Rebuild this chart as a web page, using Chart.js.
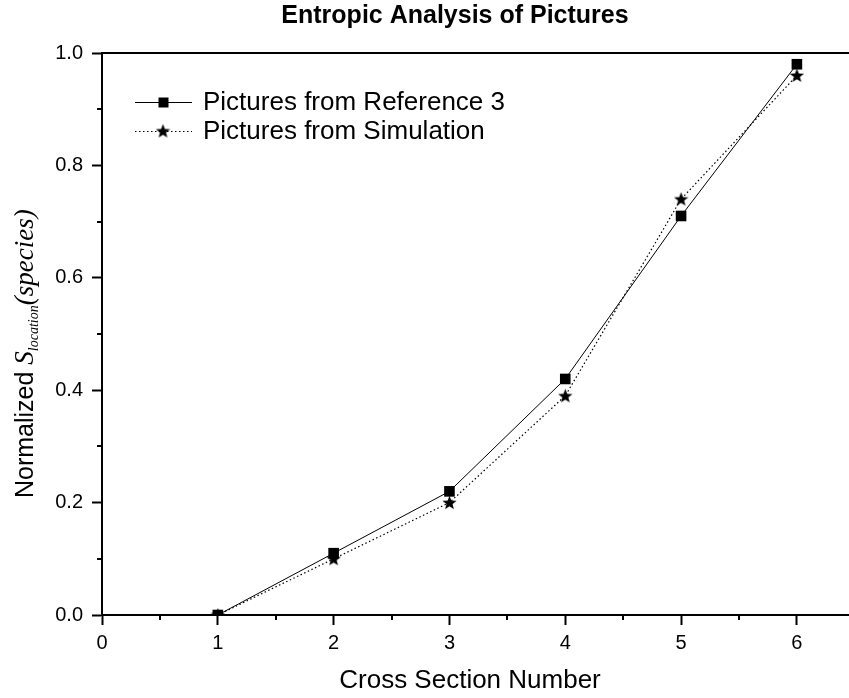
<!DOCTYPE html>
<html>
<head>
<meta charset="utf-8">
<script src="https://cdn.jsdelivr.net/npm/chart.js@4.4.1/dist/chart.umd.min.js"></script>
<style>
  html, body { margin: 0; padding: 0; background: #fff; }
  #wrap { width: 849px; height: 698px; }
</style>
</head>
<body>
<div id="wrap"><canvas id="entropy"></canvas></div>
<script>
"use strict";

const crossSections = [1, 2, 3, 4, 5, 6];
const referenceValues = [0.0, 0.11, 0.22, 0.42, 0.71, 0.98];
const simulationValues = [0.0, 0.10, 0.20, 0.39, 0.74, 0.96];
const xTickValues = [0, 1, 2, 3, 4, 5, 6];
const yTickValues = [0.0, 0.2, 0.4, 0.6, 0.8, 1.0];
const seriesLabels = ['Pictures from Reference 3', 'Pictures from Simulation'];

const SANS = "'Liberation Sans', Arial, sans-serif";
const SERIF = "'Liberation Serif', 'Times New Roman', serif";

// filled five point star used as point style
function makeStar(size) {
    const c = document.createElement('canvas');
    c.width = size;
    c.height = size;
    const ctx = c.getContext('2d');
    const cx = size / 2, cy = size / 2 + 0.5;
    const outer = size / 2, inner = outer * 0.42;
    ctx.beginPath();
    for (let i = 0; i < 10; i++) {
        const r = i % 2 === 0 ? outer : inner;
        const a = -Math.PI / 2 + i * Math.PI / 5;
        ctx.lineTo(cx + r * Math.cos(a), cy + r * Math.sin(a));
    }
    ctx.closePath();
    ctx.fillStyle = '#000';
    ctx.fill();
    return c;
}
const star = makeStar(15);

function toPoints(values) {
    return crossSections.map((x, i) => ({x: x, y: values[i]}));
}

const decorations = {
    id: 'decorations',
    afterDraw(chart) {
        const ctx = chart.ctx;
        const area = chart.chartArea;
        const xs = chart.scales.x, ys = chart.scales.y;
        ctx.save();

        // top frame line
        ctx.strokeStyle = '#000';
        ctx.lineWidth = 2;
        ctx.beginPath();
        ctx.moveTo(area.left - 1, area.top);
        ctx.lineTo(area.right, area.top);
        ctx.stroke();

        // minor ticks
        ctx.lineWidth = 2;
        ctx.beginPath();
        for (let v = 0.5; v <= xs.max; v += 1) {
            const px = Math.round(xs.getPixelForValue(v));
            ctx.moveTo(px, area.bottom);
            ctx.lineTo(px, area.bottom + 5);
        }
        for (let v = 0.1; v < 1; v += 0.2) {
            const py = Math.round(ys.getPixelForValue(v));
            ctx.moveTo(area.left, py);
            ctx.lineTo(area.left - 5, py);
        }
        ctx.stroke();

        // title
        ctx.fillStyle = '#000';
        ctx.textAlign = 'center';
        ctx.textBaseline = 'middle';
        ctx.font = 'bold 25px ' + SANS;
        ctx.fillText('Entropic Analysis of Pictures', 455, 16);

        // x axis title
        ctx.font = '26px ' + SANS;
        ctx.fillText('Cross Section Number', 470, 681);

        // y axis title, mixed styles
        ctx.save();
        ctx.translate(33, 498);
        ctx.rotate(-Math.PI / 2);
        ctx.textAlign = 'left';
        ctx.textBaseline = 'alphabetic';
        let pos = 0;
        const parts = [
            {t: 'Normalized ', f: '25px ' + SANS, dy: 0},
            {t: 'S', f: 'italic 27px ' + SERIF, dy: 0},
            {t: 'location', f: 'italic 14px ' + SERIF, dy: 5},
            {t: '(species)', f: 'italic 27px ' + SERIF, dy: 0}
        ];
        parts.forEach(p => {
            ctx.font = p.f;
            ctx.fillText(p.t, pos, p.dy);
            pos += ctx.measureText(p.t).width;
        });
        ctx.restore();

        // legend
        const rows = [
            {y: 102, dash: [], img: null},
            {y: 131, dash: [1.5, 2.5], img: star}
        ];
        ctx.textAlign = 'left';
        ctx.textBaseline = 'middle';
        ctx.font = '26px ' + SANS;
        rows.forEach((r, i) => {
            ctx.lineWidth = 1;
            ctx.setLineDash(r.dash);
            ctx.beginPath();
            ctx.moveTo(135, r.y + 0.5);
            ctx.lineTo(192, r.y + 0.5);
            ctx.stroke();
            ctx.setLineDash([]);
            if (r.img) {
                ctx.drawImage(r.img, 163 - 7.5, r.y - 7.5);
            } else {
                ctx.fillRect(158.5, r.y - 4.5, 10, 10);
            }
            ctx.fillText(seriesLabels[i], 203, r.y + 1);
        });

        ctx.restore();
    }
};

const chart = new Chart(document.getElementById('entropy'), {
    type: 'line',
    data: {
        datasets: [{
            label: seriesLabels[0],
            data: toPoints(referenceValues),
            borderColor: '#000',
            backgroundColor: '#000',
            borderWidth: 1,
            pointStyle: 'rect',
            pointRadius: 7.5,
            pointHoverRadius: 7.5,
            pointBorderWidth: 0,
            tension: 0
        }, {
            label: seriesLabels[1],
            data: toPoints(simulationValues),
            borderColor: '#000',
            backgroundColor: '#000',
            borderWidth: 1.2,
            borderDash: [1.5, 2.5],
            pointStyle: star,
            pointRadius: 7.5,
            tension: 0
        }]
    },
    options: {
        responsive: true,
        maintainAspectRatio: false,
        animation: false,
        events: [],
        layout: {autoPadding: false, padding: {top: 53, left: 0, right: 0, bottom: 0}},
        plugins: {
            legend: {display: false},
            title: {display: false},
            tooltip: {enabled: false}
        },
        scales: {
            x: {
                type: 'linear',
                min: 0,
                max: 6.45,
                afterFit: scale => { scale.height = 83; },
                afterBuildTicks: scale => { scale.ticks = xTickValues.map(v => ({value: v})); },
                ticks: {
                    includeBounds: false,
                    autoSkip: false,
                    maxRotation: 0,
                    padding: 6,
                    color: '#000',
                    font: {family: SANS, size: 20},
                    callback: v => String(v)
                },
                grid: {
                    drawOnChartArea: false,
                    drawTicks: true,
                    tickLength: 10,
                    tickWidth: 2,
                    tickColor: '#000'
                },
                border: {display: true, color: '#000', width: 2}
            },
            y: {
                min: 0,
                max: 1,
                afterFit: scale => { scale.width = 102; },
                afterBuildTicks: scale => { scale.ticks = yTickValues.map(v => ({value: v})); },
                ticks: {
                    autoSkip: false,
                    padding: 9,
                    color: '#000',
                    font: {family: SANS, size: 20},
                    callback: v => Number(v).toFixed(1)
                },
                grid: {
                    drawOnChartArea: false,
                    drawTicks: true,
                    tickLength: 10,
                    tickWidth: 2,
                    tickColor: '#000'
                },
                border: {display: true, color: '#000', width: 2}
            }
        }
    },
    plugins: [decorations]
});
</script>
</body>
</html>
